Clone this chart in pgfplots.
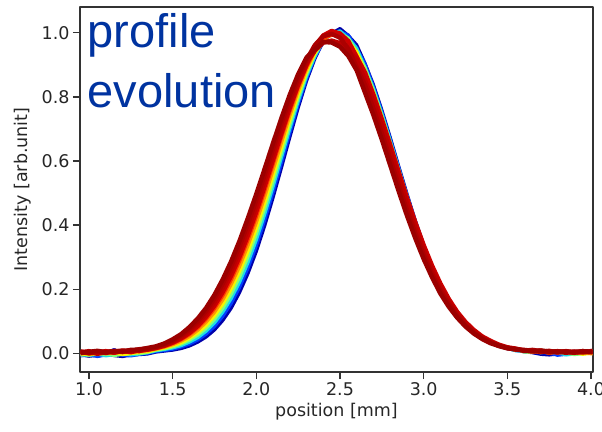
\documentclass[border=0pt]{standalone}
\usepackage{fontspec}
\setmainfont{DejaVu Sans}
\newfontfamily\arialf{Liberation Sans}
\usepackage{pgfplots}
\usepackage{pgfplotstable}
\pgfplotsset{compat=1.18}
\definecolor{titleblue}{RGB}{0,51,160}
\definecolor{j0}{RGB}{0,0,170}
\definecolor{j1}{RGB}{0,60,255}
\definecolor{j2}{RGB}{30,220,230}
\definecolor{j3}{RGB}{130,255,120}
\definecolor{j4}{RGB}{247,245,0}
\definecolor{j5}{RGB}{255,151,0}
\definecolor{j6}{RGB}{255,57,0}
\definecolor{j7}{RGB}{205,0,0}
\definecolor{j8}{RGB}{188,0,0}
\definecolor{j9}{RGB}{172,0,0}
\definecolor{j10}{RGB}{155,0,0}
\pgfplotstableread{
x c0 c1 c2 c3 c4 c5 c6 c7 c8 c9 c10
0.95 -0.006 -0.009 -0.004 -0.007 -0.002 0.001 -0.003 0.004 0.002 0.005 0.001
1.00 -0.010 -0.005 -0.008 -0.003 -0.006 0.002 0.003 -0.001 0.006 0.001 0.004
1.05 -0.007 -0.011 -0.003 -0.005 0.000 -0.004 0.005 0.002 -0.002 0.004 0.007
1.10 -0.004 -0.006 -0.009 -0.001 -0.003 0.003 -0.002 0.006 0.003 0.001 0.003
1.15 -0.008 0.012 -0.005 -0.008 0.002 -0.001 0.004 0.001 0.007 0.005 0.006
1.20 -0.011 -0.007 -0.002 -0.004 -0.005 0.004 0.001 0.007 0.004 0.008 0.005
1.25 -0.006 -0.009 -0.006 0.000 -0.002 0.002 0.006 0.003 0.009 0.006 0.010
1.30 -0.005 -0.004 -0.003 -0.002 0.003 0.005 0.004 0.009 0.007 0.012 0.011
1.35 -0.003 -0.001 0.001 0.002 0.004 0.007 0.009 0.011 0.013 0.014 0.016
1.40 0.003 0.005 0.007 0.009 0.011 0.012 0.014 0.016 0.018 0.019 0.021
1.45 0.006 0.008 0.011 0.013 0.016 0.018 0.020 0.023 0.025 0.028 0.030
1.50 0.009 0.012 0.016 0.019 0.023 0.026 0.029 0.033 0.036 0.039 0.043
1.55 0.014 0.019 0.023 0.028 0.032 0.037 0.041 0.046 0.050 0.055 0.059
1.60 0.022 0.028 0.034 0.040 0.046 0.051 0.057 0.063 0.069 0.075 0.081
1.65 0.034 0.041 0.048 0.056 0.063 0.071 0.078 0.085 0.093 0.100 0.108
1.70 0.050 0.059 0.068 0.077 0.086 0.096 0.105 0.114 0.123 0.132 0.141
1.75 0.072 0.083 0.094 0.105 0.116 0.127 0.138 0.149 0.160 0.171 0.182
1.80 0.102 0.115 0.128 0.140 0.153 0.166 0.179 0.192 0.205 0.218 0.231
1.85 0.140 0.155 0.170 0.184 0.199 0.214 0.228 0.243 0.258 0.272 0.287
1.90 0.189 0.205 0.221 0.237 0.254 0.270 0.286 0.302 0.319 0.335 0.351
1.95 0.248 0.265 0.282 0.300 0.317 0.335 0.352 0.369 0.387 0.404 0.422
2.00 0.317 0.335 0.353 0.371 0.389 0.407 0.425 0.443 0.461 0.479 0.497
2.05 0.397 0.415 0.433 0.451 0.469 0.487 0.505 0.523 0.541 0.558 0.576
2.10 0.485 0.502 0.519 0.536 0.554 0.571 0.588 0.605 0.622 0.639 0.656
2.15 0.578 0.594 0.610 0.625 0.641 0.656 0.672 0.687 0.703 0.719 0.734
2.20 0.673 0.687 0.700 0.713 0.727 0.740 0.753 0.767 0.780 0.793 0.807
2.25 0.765 0.776 0.786 0.797 0.807 0.818 0.828 0.839 0.850 0.860 0.871
2.30 0.849 0.856 0.864 0.871 0.879 0.886 0.893 0.901 0.908 0.916 0.923
2.35 0.919 0.925 0.926 0.934 0.935 0.942 0.943 0.958 0.945 0.962 0.950
2.40 0.974 0.970 0.977 0.972 0.980 0.976 0.983 0.992 0.970 0.990 0.972
2.45 0.999 1.005 0.997 1.002 0.994 0.999 0.992 1.006 0.976 0.997 0.970
2.50 1.014 1.004 1.007 0.997 1.001 0.991 0.995 0.998 0.968 0.985 0.957
2.55 0.992 0.994 0.983 0.985 0.973 0.976 0.964 0.974 0.945 0.950 0.928
2.60 0.963 0.951 0.953 0.940 0.942 0.929 0.930 0.924 0.915 0.892 0.883
2.65 0.905 0.904 0.892 0.892 0.880 0.880 0.868 0.875 0.851 0.836 0.813
2.70 0.839 0.833 0.827 0.821 0.815 0.809 0.803 0.806 0.785 0.763 0.743
2.75 0.760 0.755 0.749 0.743 0.738 0.732 0.726 0.730 0.709 0.686 0.667
2.80 0.675 0.670 0.665 0.660 0.655 0.650 0.645 0.650 0.629 0.606 0.587
2.85 0.586 0.582 0.578 0.574 0.569 0.565 0.561 0.567 0.547 0.525 0.507
2.90 0.499 0.495 0.492 0.489 0.486 0.483 0.479 0.485 0.467 0.447 0.430
2.95 0.415 0.413 0.411 0.408 0.406 0.404 0.402 0.408 0.391 0.374 0.359
3.00 0.339 0.337 0.336 0.334 0.333 0.332 0.330 0.337 0.322 0.307 0.294
3.05 0.271 0.270 0.269 0.268 0.268 0.267 0.266 0.273 0.260 0.247 0.237
3.10 0.212 0.211 0.211 0.211 0.211 0.211 0.211 0.217 0.207 0.195 0.186
3.15 0.162 0.162 0.163 0.163 0.163 0.163 0.164 0.169 0.161 0.153 0.145
3.20 0.122 0.122 0.123 0.123 0.124 0.124 0.125 0.129 0.123 0.116 0.111
3.25 0.089 0.090 0.091 0.091 0.092 0.093 0.093 0.097 0.093 0.087 0.083
3.30 0.064 0.065 0.066 0.066 0.067 0.068 0.069 0.072 0.068 0.064 0.061
3.35 0.052 0.046 0.047 0.047 0.048 0.049 0.049 0.052 0.050 0.046 0.044
3.40 0.036 0.032 0.032 0.033 0.034 0.034 0.035 0.038 0.035 0.033 0.031
3.45 0.021 0.022 0.022 0.023 0.023 0.024 0.024 0.026 0.025 0.023 0.022
3.50 0.014 0.014 0.015 0.015 0.016 0.016 0.017 0.018 0.017 0.016 0.015
3.55 0.008 0.011 0.007 0.012 0.009 0.013 0.010 0.014 0.011 0.013 0.012
3.60 0.004 0.009 0.006 0.003 0.010 0.007 0.011 0.008 0.010 0.007 0.009
3.65 0.001 0.005 0.008 0.002 0.006 0.004 0.009 0.005 0.007 0.010 0.006
3.70 -0.004 0.002 0.006 0.009 0.001 0.005 0.003 0.008 0.004 0.006 0.008
3.75 -0.006 0.000 0.003 0.007 0.004 -0.001 0.006 0.002 0.007 0.003 0.005
3.80 -0.003 -0.007 0.001 0.004 0.008 0.003 0.000 0.005 0.002 0.006 0.004
3.85 0.002 -0.004 -0.006 0.000 0.005 0.007 0.002 0.004 0.006 0.001 0.005
3.90 0.006 0.001 -0.003 -0.005 0.002 0.004 0.006 0.001 0.003 0.005 0.002
3.95 0.003 0.007 0.002 -0.002 -0.004 0.001 0.003 0.006 0.002 0.004 0.006
4.01 -0.001 0.004 0.008 0.003 0.000 -0.003 0.002 0.004 0.007 0.003 0.004
}\profiles
\begin{document}
\begin{tikzpicture}
\path[use as bounding box] (-80pt,-59pt) rectangle (522pt,372pt);
\begin{axis}[
  at={(0pt,0pt)}, anchor=south west,
  width=513pt, height=365pt, scale only axis,
  xmin=0.946, xmax=4.012, ymin=-0.059, ymax=1.081,
  xtick={1.0,1.5,2.0,2.5,3.0,3.5,4.0},
  ytick={0,0.2,0.4,0.6,0.8,1.0},
  tick align=outside, major tick length=7pt,
  tick style={line width=1.1pt, color=black!80},
  xtick pos=bottom, ytick pos=left,
  axis line style={line width=1.3pt, black!80},
  /pgf/number format/assume math mode=true,
  /pgf/number format/fixed, /pgf/number format/fixed zerofill, /pgf/number format/precision=1,
  tick label style={font=\fontsize{17.5}{20}\selectfont, color=black!85},
  label style={font=\fontsize{17.5}{20}\selectfont, color=black!85},
  xlabel={position [mm]}, ylabel={Intensity [arb.unit]},
  xlabel style={at={(axis description cs:0.5,-0.1096)}, anchor=center},
  ylabel style={at={(axis description cs:-0.111,0.5)}, anchor=center},
  no markers, line join=round,
]
\addplot[j0, line width=3pt] table[x=x,y=c0]{\profiles};
\addplot[j1, line width=3pt] table[x=x,y=c1]{\profiles};
\addplot[j2, line width=3pt] table[x=x,y=c2]{\profiles};
\addplot[j3, line width=3pt] table[x=x,y=c3]{\profiles};
\addplot[j4, line width=3pt] table[x=x,y=c4]{\profiles};
\addplot[j5, line width=3pt] table[x=x,y=c5]{\profiles};
\addplot[j6, line width=3pt] table[x=x,y=c6]{\profiles};
\addplot[j7, line width=4.5pt] table[x=x,y=c7]{\profiles};
\addplot[j8, line width=4.5pt] table[x=x,y=c8]{\profiles};
\addplot[j9, line width=4.5pt] table[x=x,y=c9]{\profiles};
\addplot[j10, line width=4.5pt] table[x=x,y=c10]{\profiles};
\node[anchor=base west, inner sep=0pt, text=titleblue, font=\arialf\fontsize{47}{56}\selectfont] at (rel axis cs:0.0146,0.8877) {profile};
\node[anchor=base west, inner sep=0pt, text=titleblue, font=\arialf\fontsize{47}{56}\selectfont] at (rel axis cs:0.0146,0.7233) {evolution};
\end{axis}
\end{tikzpicture}
\end{document}
